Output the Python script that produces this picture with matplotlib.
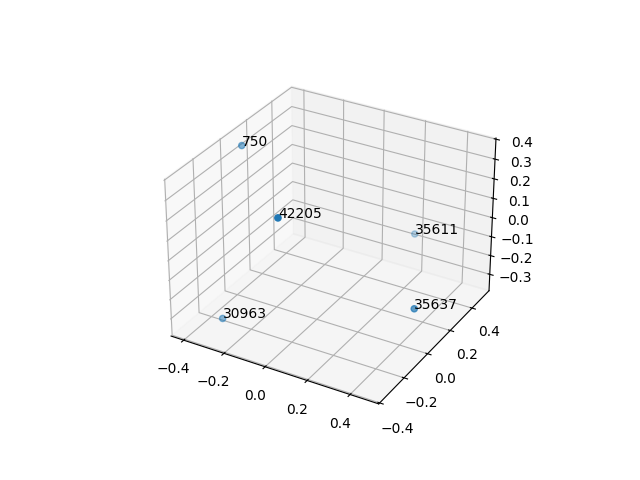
import matplotlib
matplotlib.use("Agg")
import matplotlib.pyplot as plt

# point labels and coordinates
labels = ["750", "42205", "35611", "35637", "30963"]
xs = [-0.40, 0.034, 0.194, 0.468, -0.309]
ys = [0.064, -0.346, 0.499, -0.007, -0.25]
zs = [0.355, 0.334, -0.155, -0.172, -0.338]

fig = plt.figure()
ax = fig.add_subplot(projection="3d")
ax.scatter(xs, ys, zs)

for x, y, z, label in zip(xs, ys, zs, labels):
    ax.text(x, y, z, label)

fig.savefig("out.png")
